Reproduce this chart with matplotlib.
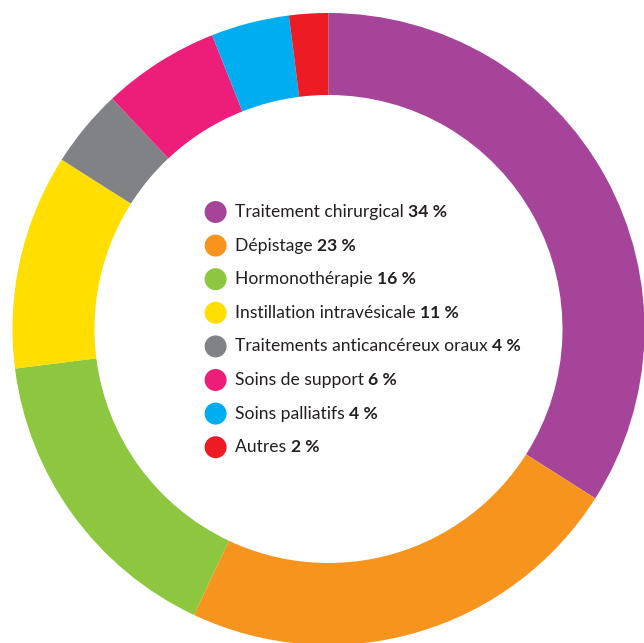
import matplotlib.pyplot as plt
from matplotlib.patches import Circle

categories = [
    "Traitement chirurgical",
    "Dépistage",
    "Hormonothérapie",
    "Instillation intravésicale",
    "Traitements anticancéreux oraux",
    "Soins de support",
    "Soins palliatifs",
    "Autres",
]
values = [34, 23, 16, 11, 4, 6, 4, 2]
colors = ["#a54499", "#f7941e", "#8dc63f", "#ffde00",
          "#808285", "#ed1e79", "#00aeef", "#ed1c24"]

W, H = 644, 643
fig = plt.figure(figsize=(W / 100, H / 100), dpi=100)
ax = fig.add_axes([0, 0, 1, 1])

cx, cy, r_out, r_in = 328.5, H - 329, 316, 234
ax.pie(values, colors=colors, startangle=90, counterclock=False,
       radius=r_out, center=(cx, cy),
       wedgeprops=dict(width=r_out - r_in, linewidth=0))
ax.set_xlim(0, W)
ax.set_ylim(0, H)
ax.set_aspect("equal")
ax.axis("off")

font = "Lato"
text_color = "#231f20"
y0, dy = H - 212, 33.6
for i, (name, val, col) in enumerate(zip(categories, values, colors)):
    y = y0 - i * dy
    ax.add_patch(Circle((215.6, y), 11, color=col, lw=0))
    t = ax.text(235, y, name + " ", fontsize=12.6, family=font,
                color=text_color, va="center", ha="left")
    ax.annotate(f"{val} %", xy=(1, 0.5), xycoords=t, fontsize=12.6,
                family=font, fontweight="bold", color=text_color,
                va="center", ha="left")

fig.savefig("out.png", dpi=100)
